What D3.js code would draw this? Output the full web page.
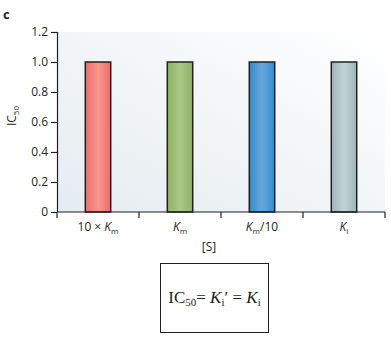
<!DOCTYPE html>
<html>
<head>
<meta charset="utf-8">
<script src="https://cdn.jsdelivr.net/npm/d3@7"></script>
<style>
  body { margin: 0; background: #fff; }
  text { font-family: "Open Sans", "Liberation Sans", sans-serif; }
  text.serif { font-family: "Liberation Serif", "DejaVu Serif", serif; }
</style>
</head>
<body>
<script>
var WIDTH = 391;
var HEIGHT = 341;

// data
var categories = ["10xKm", "Km", "Km/10", "Ki"];
var ic50Values = [1.0, 1.0, 1.0, 1.0];
var yTicks = [0, 0.2, 0.4, 0.6, 0.8, 1.0, 1.2];
var barColors = [
    ["#ef6b6b", "#f5968c"],
    ["#8fb463", "#a9c98a"],
    ["#2f8ecf", "#69a7d8"],
    ["#9db6b7", "#c1d3d3"]
];

var margin = {left: 57, right: 6, top: 32, bottom: 129};
var plotW = WIDTH - margin.left - margin.right;
var plotH = HEIGHT - margin.top - margin.bottom;

var svg = d3.select("body").append("svg")
    .attr("width", WIDTH)
    .attr("height", HEIGHT);

var defs = svg.append("defs");

/* panel background: faint blue-grey in the lower left fading out */
var bg = defs.append("linearGradient")
    .attr("id", "bgGrad")
    .attr("x1", "0").attr("y1", "1")
    .attr("x2", "1").attr("y2", "0");
bg.append("stop").attr("offset", "0").attr("stop-color", "#e5ecf0");
bg.append("stop").attr("offset", "1").attr("stop-color", "#ffffff");

barColors.forEach(function(c, i) {
    var g = defs.append("linearGradient")
        .attr("id", "barGrad" + i)
        .attr("x1", "0").attr("y1", "0")
        .attr("x2", "1").attr("y2", "0");
    g.append("stop").attr("offset", "0").attr("stop-color", c[0]);
    g.append("stop").attr("offset", "0.5").attr("stop-color", c[1]);
    g.append("stop").attr("offset", "1").attr("stop-color", c[0]);
});

var x = d3.scaleBand()
    .domain(categories)
    .range([0, plotW])
    .paddingInner(0.69)
    .paddingOuter(0.345);

var y = d3.scaleLinear()
    .domain([0, 1.2])
    .range([plotH, 0]);

var plot = svg.append("g")
    .attr("transform", "translate(" + margin.left + "," + margin.top + ")");

plot.append("rect")
    .attr("x", 0)
    .attr("y", 0)
    .attr("width", plotW)
    .attr("height", plotH)
    .attr("fill", "url(#bgGrad)");

plot.selectAll("rect.bar")
    .data(ic50Values)
    .enter().append("rect")
    .attr("class", "bar")
    .attr("x", (d, i) => x(categories[i]))
    .attr("y", d => y(d))
    .attr("width", x.bandwidth())
    .attr("height", d => plotH - y(d))
    .attr("fill", (d, i) => "url(#barGrad" + i + ")")
    .attr("stroke", "#231f20")
    .attr("stroke-width", 1.5);

// y axis
var yAxis = d3.axisLeft(y)
    .tickValues(yTicks)
    .tickSize(6)
    .tickPadding(3)
    .tickFormat(d => d === 0 ? "0" : d3.format(".1f")(d));
var yg = plot.append("g").call(yAxis);
yg.select(".domain").attr("d", "M-6,0.5H0.5V" + plotH);
yg.selectAll("line").attr("stroke", "#231f20").attr("stroke-width", 1.2);
yg.select(".domain").attr("stroke", "#231f20").attr("stroke-width", 1.2);
yg.selectAll("text")
    .attr("font-size", "12px")
    .attr("fill", "#231f20");

// x axis: ticks sit on the band boundaries
var xg = plot.append("g")
    .attr("transform", "translate(0," + plotH + ")");
xg.append("line")
    .attr("x1", 0).attr("x2", plotW)
    .attr("stroke", "#231f20").attr("stroke-width", 1.2);
var boundaries = d3.range(categories.length + 1).map(i => i * plotW / categories.length);
xg.selectAll("line.tick")
    .data(boundaries)
    .enter().append("line")
    .attr("class", "tick")
    .attr("x1", d => d).attr("x2", d => d)
    .attr("y1", 0).attr("y2", 6)
    .attr("stroke", "#231f20").attr("stroke-width", 1.2);

function addLabel(parts, cx) {
    var t = xg.append("text")
        .attr("x", cx)
        .attr("y", 19)
        .attr("text-anchor", "middle")
        .attr("font-size", "12px")
        .attr("fill", "#231f20");
    parts.forEach(function(p) {
        var ts = t.append("tspan").text(p.t);
        if (p.i) ts.attr("font-style", "italic");
        if (p.sub) ts.attr("font-size", "8px").attr("dy", 3);
        if (p.up) ts.attr("dy", -3);
    });
}
var centers = categories.map(c => x(c) + x.bandwidth() / 2);
addLabel([{t: "10 × "}, {t: "K", i: true}, {t: "m", sub: true}], centers[0]);
addLabel([{t: "K", i: true}, {t: "m", sub: true}], centers[1]);
addLabel([{t: "K", i: true}, {t: "m", sub: true}, {t: "/10", up: true}], centers[2]);
addLabel([{t: "K", i: true}, {t: "i", sub: true}], centers[3]);

xg.append("text")
    .attr("x", 152)
    .attr("y", 39)
    .attr("text-anchor", "middle")
    .attr("font-size", "12px")
    .attr("fill", "#231f20")
    .text("[S]");

// y label
var yl = svg.append("text")
    .attr("transform", "translate(16," + (margin.top + plotH / 2 - 6) + ") rotate(-90)")
    .attr("text-anchor", "middle")
    .attr("font-size", "12px")
    .attr("fill", "#231f20");
yl.append("tspan").text("IC");
yl.append("tspan").text("50").attr("font-size", "8px").attr("dy", 3);

// panel letter
svg.append("text")
    .attr("x", 3)
    .attr("y", 19)
    .attr("font-size", "13px")
    .attr("font-weight", "bold")
    .attr("fill", "#231f20")
    .text("c");

// equation box
svg.append("rect")
    .attr("x", 160.5)
    .attr("y", 263.5)
    .attr("width", 108)
    .attr("height", 69)
    .attr("fill", "none")
    .attr("stroke", "#231f20")
    .attr("stroke-width", 1);

var eq = svg.append("text")
    .attr("class", "serif")
    .attr("x", 214.5)
    .attr("y", 303)
    .attr("text-anchor", "middle")
    .attr("font-size", "17px")
    .attr("fill", "#231f20");
eq.append("tspan").text("IC");
eq.append("tspan").text("50").attr("font-size", "11px").attr("dy", 3);
eq.append("tspan").text("= ").attr("dy", -3);
eq.append("tspan").text("K").attr("font-style", "italic");
eq.append("tspan").text("i").attr("font-size", "11px").attr("dy", 3);
eq.append("tspan").text("′ = ").attr("dy", -3);
eq.append("tspan").text("K").attr("font-style", "italic");
eq.append("tspan").text("i").attr("font-size", "11px").attr("dy", 3);
</script>
</body>
</html>
